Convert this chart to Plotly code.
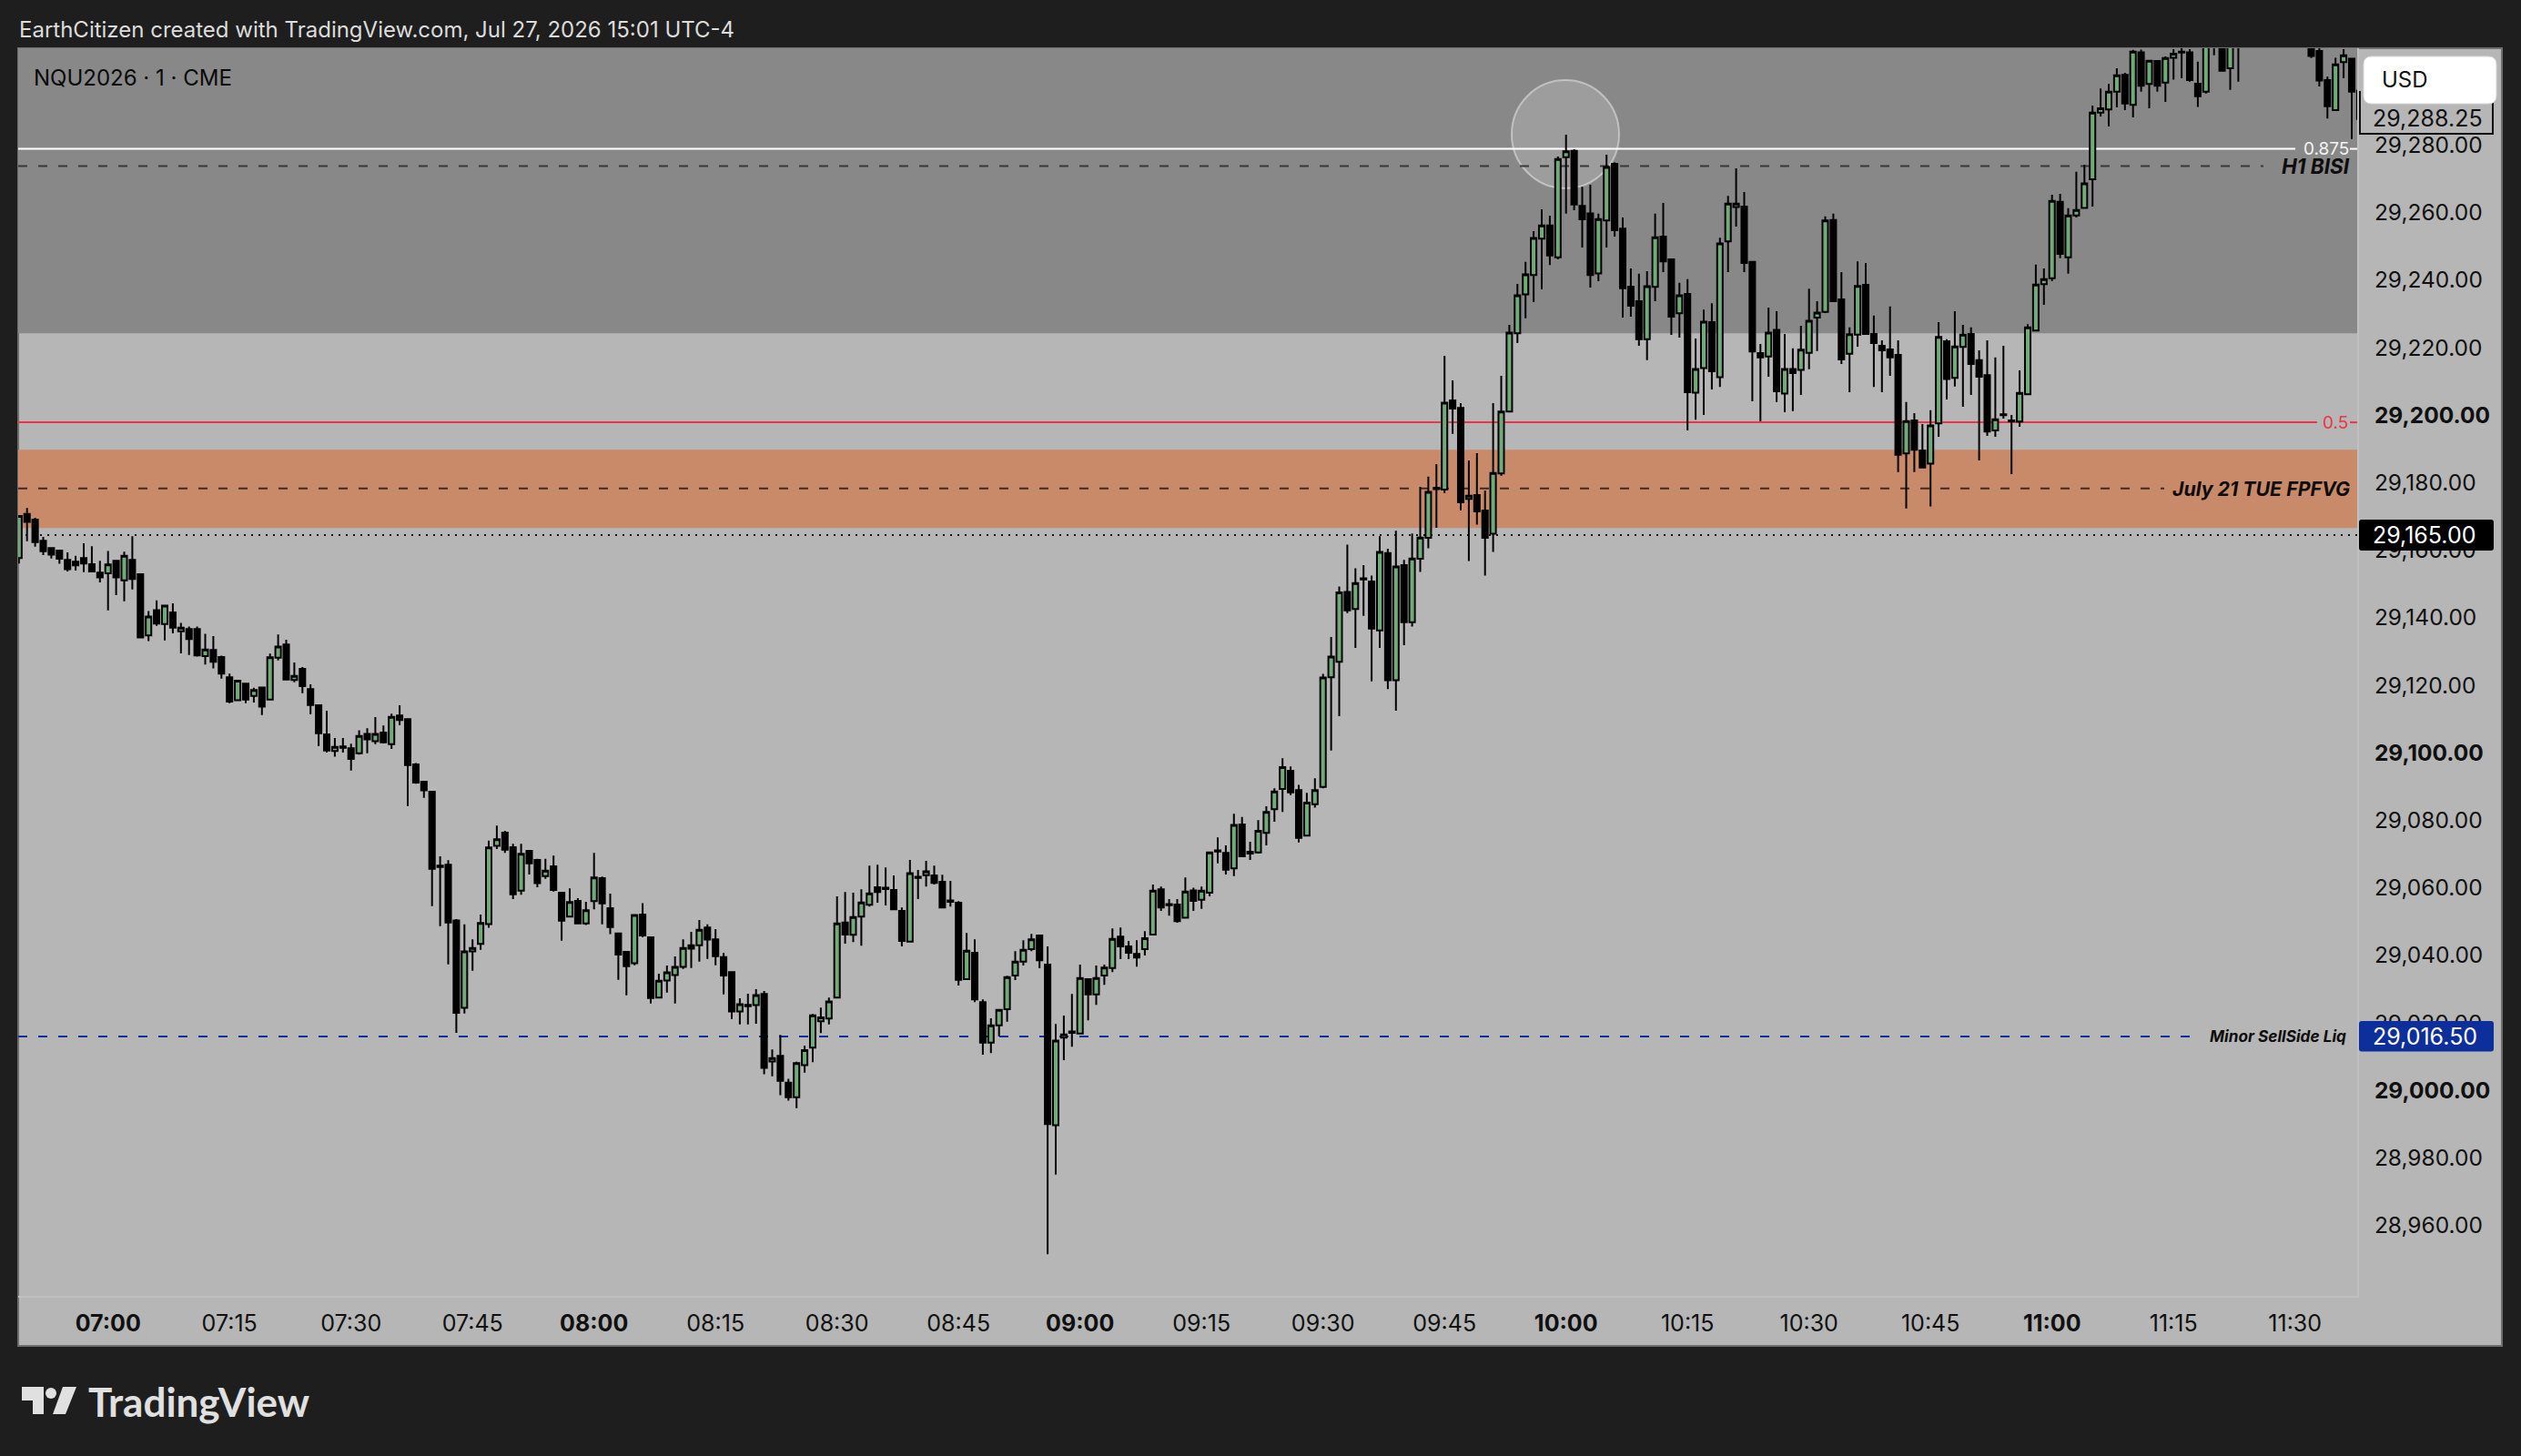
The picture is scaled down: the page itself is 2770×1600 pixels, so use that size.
import plotly.graph_objects as go

# minutes after 07:00 (the bars between 11:24 and 11:31 sit above the visible price range)
minutes = list(range(-11, 264)) + list(range(272, 279))

highs = [
29170.7,29173.0,29170.1,29164.5,29161.2,29160.4,29159.9,29158.9,29162.6,29161.7,
29157.4,29160.3,29157.4,29160.1,29164.7,29153.4,29142.5,29145.7,29144.1,29144.8,
29139.0,29137.9,29137.9,29135.8,29135.1,29129.3,29124.0,29121.9,29121.2,29119.8,
29119.9,29129.9,29135.6,29134.0,29127.3,29125.9,29120.8,29114.6,29113.0,29104.9,
29104.9,29103.2,29107.2,29107.8,29111.1,29108.6,29112.1,29114.6,29110.5,29097.5,
29092.0,29089.0,29069.9,29068.7,29051.3,29049.7,29045.3,29052.6,29074.5,29079.0,
29077.4,29073.6,29073.6,29071.5,29069.1,29069.1,29070.1,29059.1,29060.4,29057.5,
29056.4,29070.9,29063.9,29058.8,29047.0,29041.8,29052.6,29056.0,29045.9,29035.1,
29037.5,29040.2,29045.3,29047.5,29051.0,29049.7,29048.3,29041.3,29035.6,29027.8,
29029.2,29030.5,29030.0,29012.7,29017.0,29004.0,29009.0,29013.8,29023.2,29025.1,
29028.0,29058.0,29059.3,29059.1,29060.1,29067.1,29067.4,29066.6,29064.2,29054.7,
29068.8,29065.8,29068.5,29067.1,29064.4,29062.6,29056.6,29047.2,29045.3,29027.5,
29021.9,29024.6,29034.5,29041.8,29045.0,29046.9,29046.4,29043.2,29020.2,29022.7,
29029.1,29037.8,29033.5,29037.5,29037.8,29048.5,29048.8,29044.8,29045.0,29047.7,
29061.5,29060.9,29057.2,29057.2,29063.6,29060.6,29060.9,29071.0,29075.5,29073.1,
29082.5,29081.5,29074.2,29080.6,29084.7,29090.0,29098.9,29096.5,29091.0,29088.7,
29093.0,29123.9,29134.8,29149.8,29162.2,29155.2,29156.1,29153.0,29164.7,29161.0,
29166.3,29157.7,29165.5,29179.3,29182.3,29186.0,29218.1,29210.8,29204.1,29187.1,
29189.3,29178.2,29204.1,29212.2,29227.3,29239.4,29245.9,29255.0,29261.5,29259.6,
29277.1,29283.6,29279.3,29268.2,29268.8,29260.2,29277.7,29275.4,29259.1,29244.0,
29242.4,29243.2,29260.2,29263.4,29246.7,29239.7,29240.8,29223.2,29231.8,29233.7,
29253.1,29265.5,29273.6,29266.6,29246.1,29221.6,29232.4,29231.3,29224.6,29220.3,
29227.0,29238.0,29234.3,29259.4,29260.2,29242.9,29226.5,29246.1,29245.6,29230.0,
29222.7,29232.7,29222.7,29204.4,29201.1,29197.9,29202.0,29228.1,29223.0,29231.3,
29227.3,29226.5,29219.7,29222.7,29217.6,29221.1,29200.6,29213.8,29227.5,29245.1,
29244.0,29265.8,29266.1,29261.8,29272.6,29274.7,29292.2,29297.3,29298.7,29303.3,
29301.9,29308.7,29308.8,29305.7,29305.7,29306.8,29308.9,29310.0,29308.9,29305.2,
29314.0,29315.0,29313.0,29313.0,29314.0,
29312.0,29310.0,29300.8,29306.4,29308.9,29306.2,29297.0,
]

lows = [
29156.6,29163.2,29161.6,29159.1,29158.1,29156.5,29154.2,29154.5,29154.0,29154.2,
29151.0,29142.7,29147.2,29145.4,29148.9,29134.7,29133.6,29138.1,29133.8,29135.9,
29130.0,29129.5,29129.0,29126.7,29125.5,29122.5,29115.2,29116.1,29115.2,29115.4,
29111.7,29116.3,29127.9,29122.2,29121.4,29118.2,29111.9,29102.5,29100.6,29099.4,
29100.6,29095.3,29100.0,29100.4,29103.1,29103.3,29101.7,29108.7,29084.7,29091.4,
29087.2,29055.1,29049.2,29037.9,29017.6,29023.3,29036.0,29042.2,29048.7,29072.0,
29070.9,29057.2,29058.5,29064.5,29060.7,29063.2,29059.4,29044.9,29052.0,29049.7,
29049.5,29054.2,29049.7,29046.8,29033.3,29028.7,29037.6,29045.9,29026.3,29028.0,
29029.5,29026.3,29036.5,29036.8,29038.7,29039.5,29037.6,29029.0,29021.7,29020.1,
29020.1,29020.3,29005.3,29004.7,28999.1,28997.5,28995.3,29005.8,29008.9,29017.5,
29020.1,29028.0,29044.0,29044.5,29043.4,29055.0,29056.1,29055.3,29054.2,29043.2,
29044.6,29057.2,29060.9,29061.5,29054.7,29055.0,29031.6,29033.3,29026.7,29011.1,
29011.6,29016.5,29020.9,29033.2,29037.5,29041.8,29036.7,28952.0,28975.6,29009.5,
29013.5,29017.4,29021.3,29025.9,29031.8,29035.6,29039.4,29039.4,29037.2,29040.5,
29046.7,29053.7,29052.3,29050.2,29051.7,29053.7,29054.3,29058.0,29067.8,29064.5,
29064.0,29069.9,29068.8,29070.7,29073.1,29080.1,29083.0,29088.0,29074.0,29076.0,
29084.3,29090.0,29101.2,29111.4,29141.9,29131.6,29141.1,29121.7,29131.6,29119.4,
29113.0,29132.4,29137.9,29154.1,29161.1,29167.2,29177.5,29195.0,29172.3,29157.3,
29168.1,29153.0,29160.0,29182.6,29201.6,29221.9,29229.2,29234.0,29237.8,29245.0,
29246.7,29260.2,29261.2,29250.2,29238.3,29240.2,29250.2,29253.4,29229.4,29229.7,
29221.1,29216.8,29234.3,29242.9,29224.3,29223.5,29196.0,29199.2,29200.6,29208.1,
29208.9,29242.9,29256.4,29242.9,29204.6,29198.7,29211.9,29204.4,29201.4,29201.7,
29206.5,29214.1,29219.5,29230.8,29234.3,29215.7,29207.3,29220.8,29224.6,29208.9,
29207.3,29212.2,29183.7,29172.9,29183.7,29185.0,29173.5,29194.1,29205.2,29209.0,
29203.0,29206.5,29187.1,29194.4,29194.1,29199.5,29183.1,29197.1,29206.7,29225.6,
29233.2,29240.2,29247.0,29242.4,29259.1,29261.9,29262.3,29289.0,29286.0,29291.7,
29290.9,29288.7,29296.3,29291.4,29296.3,29293.3,29299.9,29300.3,29299.3,29291.8,
29295.8,29307.1,29302.5,29296.9,29299.3,
29306.3,29297.9,29288.4,29290.9,29300.3,29282.3,29288.0,
]

opens = [
29158.2,29171.3,29169.6,29163.3,29161.2,29160.4,29157.65,29157.1,29158.2,29156.4,
29153.9,29153.7,29157.4,29151.6,29157.65,29153.4,29135.3,29142.8,29138.7,29142.1,
29136.5,29137.2,29137.2,29129.2,29131.0,29128.9,29122.9,29116.1,29121.0,29117.4,
29119.9,29116.3,29128.7,29132.6,29122.1,29125.4,29119.4,29114.6,29106.0,29101.1,
29102.4,29101.9,29100.4,29106.1,29104.0,29106.5,29103.1,29111.6,29110.5,29097.1,
29092.0,29089.0,29067.1,29067.4,29050.9,29025.0,29041.7,29043.9,29049.8,29073.0,
29076.9,29072.6,29059.7,29071.5,29068.8,29064.0,29066.9,29059.1,29052.0,29056.7,
29050.0,29056.6,29063.4,29054.5,29047.0,29041.6,29038.2,29052.6,29045.9,29028.0,
29033.1,29034.7,29037.1,29043.5,29043.5,29048.8,29045.3,29040.0,29035.6,29023.9,
29025.9,29025.8,29029.1,29009.1,29010.8,29002.8,28998.5,29008.0,29013.2,29021.0,
29021.8,29028.0,29050.3,29046.6,29052.0,29055.5,29060.7,29060.6,29059.9,29053.7,
29044.6,29063.8,29064.3,29064.2,29062.3,29056.8,29056.1,29033.5,29041.3,29026.7,
29014.7,29019.8,29024.6,29034.6,29038.7,29042.4,29046.4,29037.8,28990.2,29016.2,
29018.0,29017.4,29033.5,29029.0,29034.6,29036.8,29046.1,29043.2,29041.0,29042.4,
29046.7,29060.1,29055.7,29055.6,29051.7,29059.8,29057.0,29059.1,29071.6,29070.9,
29066.3,29079.3,29071.2,29071.0,29076.8,29083.8,29089.8,29095.2,29089.5,29076.0,
29085.3,29090.4,29122.9,29127.5,29148.2,29143.1,29152.2,29151.3,29136.8,29159.7,
29122.0,29156.1,29139.2,29158.0,29164.2,29179.0,29178.5,29204.9,29202.7,29175.7,
29176.9,29172.3,29165.4,29183.3,29201.6,29224.8,29236.3,29242.0,29252.8,29256.7,
29247.3,29276.9,29278.8,29262.5,29260.3,29242.5,29258.2,29275.0,29255.8,29238.6,
29234.3,29223.0,29238.5,29253.4,29246.7,29230.7,29236.4,29207.2,29214.5,29228.1,
29211.8,29252.0,29262.2,29262.3,29245.9,29218.9,29217.9,29225.8,29206.9,29214.2,
29213.9,29219.0,29229.4,29231.1,29258.3,29234.8,29218.7,29224.4,29239.1,29224.6,
29221.1,29220.0,29218.4,29189.2,29199.0,29190.1,29186.2,29198.1,29222.4,29211.6,
29220.7,29224.6,29216.8,29212.4,29196.0,29200.8,29199.0,29198.6,29206.7,29225.6,
29239.3,29241.1,29263.7,29247.3,29259.7,29261.9,29270.4,29290.1,29291.1,29296.3,
29301.3,29292.4,29308.0,29298.6,29305.4,29299.0,29306.4,29308.2,29308.0,29298.7,
29296.3,29313.0,29312.0,29303.3,29313.0,
29310.0,29308.4,29299.8,29290.9,29305.1,29306.1,29296.7,
]

closes = [
29170.7,29168.9,29162.9,29160.2,29159.25,29158.0,29154.9,29156.05,29156.6,29154.2,
29152.5,29156.3,29152.5,29158.9,29152.0,29134.7,29140.9,29138.8,29144.1,29137.6,
29137.6,29134.2,29129.4,29131.1,29127.5,29124.0,29115.7,29121.9,29116.3,29119.1,
29114.2,29128.8,29132.0,29122.2,29123.3,29120.3,29114.7,29106.3,29101.2,29102.3,
29102.0,29098.7,29105.5,29104.5,29106.1,29103.6,29111.2,29110.2,29096.9,29091.7,
29089.4,29066.2,29066.7,29050.3,29023.5,29041.7,29042.7,29050.1,29072.5,29074.9,
29071.8,29058.6,29070.6,29067.8,29061.9,29065.6,29059.9,29050.8,29056.3,29050.0,
29053.9,29063.6,29055.9,29048.9,29040.8,29037.3,29052.5,29046.4,29027.9,29033.0,
29035.5,29037.1,29042.7,29042.5,29048.1,29045.2,29040.3,29034.6,29023.9,29026.1,
29025.5,29028.8,29007.2,29010.1,29003.4,28998.5,29008.6,29012.5,29022.8,29022.2,
29026.9,29050.0,29046.7,29051.9,29056.2,29058.9,29059.3,29060.2,29054.2,29044.8,
29064.9,29063.5,29065.4,29062.0,29054.7,29056.4,29033.3,29041.9,29027.5,29014.7,
29019.8,29024.4,29034.1,29038.7,29042.2,29045.3,29039.1,28990.6,29015.3,29017.1,
29017.6,29033.8,29029.0,29033.8,29036.9,29045.4,29043.2,29041.3,29039.9,29045.6,
29059.7,29054.7,29055.4,29050.7,29059.4,29056.7,29059.7,29071.0,29071.3,29065.9,
29079.2,29069.9,29070.7,29077.4,29083.0,29089.1,29096.3,29088.8,29075.3,29085.8,
29089.5,29122.8,29129.0,29148.0,29142.7,29150.8,29151.9,29137.3,29160.0,29122.0,
29155.7,29139.2,29158.1,29164.3,29177.8,29178.6,29204.2,29202.5,29174.7,29176.7,
29172.0,29164.2,29183.4,29201.6,29225.0,29236.0,29242.2,29253.0,29256.7,29247.8,
29276.4,29278.7,29262.9,29258.5,29242.0,29258.6,29274.0,29255.3,29238.1,29232.9,
29223.0,29238.7,29253.2,29246.1,29229.7,29236.0,29207.3,29214.2,29228.2,29213.5,
29251.4,29263.2,29263.2,29245.6,29219.4,29217.6,29225.0,29207.6,29214.2,29213.0,
29219.9,29228.5,29230.9,29258.2,29234.3,29217.0,29224.5,29238.8,29224.6,29221.9,
29219.7,29217.6,29188.8,29198.8,29190.3,29185.0,29197.5,29223.7,29211.2,29220.9,
29224.4,29215.7,29211.9,29195.7,29199.3,29200.5,29198.7,29207.1,29226.5,29239.2,
29240.8,29264.0,29248.3,29259.7,29261.3,29269.2,29290.1,29291.4,29296.3,29301.2,
29292.8,29308.2,29298.1,29305.5,29298.1,29306.3,29307.6,29307.9,29299.8,29295.0,
29312.0,29310.0,29302.5,29311.0,29310.0,
29306.9,29299.6,29292.0,29304.4,29307.1,29296.3,29288.25,
]

price_ticks = [28960, 28980, 29000, 29020, 29040, 29060, 29080, 29100, 29120, 29140,
               29160, 29180, 29200, 29220, 29240, 29260, 29280]
price_labels = ["28,960.00", "28,980.00", "<b>29,000.00</b>", "29,020.00", "29,040.00",
                "29,060.00", "29,080.00", "<b>29,100.00</b>", "29,120.00", "29,140.00",
                "29,160.00", "29,180.00", "<b>29,200.00</b>", "29,220.00", "29,240.00",
                "29,260.00", "29,280.00"]
time_ticks = list(range(0, 271, 15))
time_labels = ["<b>07:00</b>", "07:15", "07:30", "07:45", "<b>08:00</b>", "08:15", "08:30",
               "08:45", "<b>09:00</b>", "09:15", "09:30", "09:45", "<b>10:00</b>", "10:15",
               "10:30", "10:45", "<b>11:00</b>", "11:15", "11:30"]

# chart levels (prices)
premium_low = 29224.8
fvg_high = 29190.3
fvg_low = 29167.1
fvg_mid = 29178.8
bisi_mid = 29274.3
level_0875 = 29279.4
level_05 = 29198.4
close_level = 29165.0
sellside = 29016.5
last_price = 29288.25

FONT = "Inter"
BG = "#1e1e1e"
PANEL = "#b6b6b6"
DARKZONE = "#888888"
ORANGE = "#c88a68"
GREEN = "#70ac78"
RED = "#ee3446"
BLUE = "#0c2f9b"

# page geometry of the plot box, in screen pixels
L, R, T, B = 20, 2590, 53, 1424
W, H = 2770, 1600


def X(px):
    return (px - L) / (R - L)


def Y(py):
    return (B - py) / (B - T)


def path(points):
    return "M " + " L ".join(f"{X(a):.6f},{Y(b):.6f}" for a, b in points) + " Z"


def rounded(x0, y0, x1, y1, r):
    return (f"M {X(x0+r):.6f},{Y(y0):.6f} L {X(x1-r):.6f},{Y(y0):.6f} Q {X(x1):.6f},{Y(y0):.6f} {X(x1):.6f},{Y(y0+r):.6f} "
            f"L {X(x1):.6f},{Y(y1-r):.6f} Q {X(x1):.6f},{Y(y1):.6f} {X(x1-r):.6f},{Y(y1):.6f} "
            f"L {X(x0+r):.6f},{Y(y1):.6f} Q {X(x0):.6f},{Y(y1):.6f} {X(x0):.6f},{Y(y1-r):.6f} "
            f"L {X(x0):.6f},{Y(y0+r):.6f} Q {X(x0):.6f},{Y(y0):.6f} {X(x0+r):.6f},{Y(y0):.6f} Z")


def hline(level, x0, x1, color, width, dash="solid"):
    return dict(type="line", xref="paper", yref="y", x0=X(x0), x1=X(x1), y0=level, y1=level,
                layer="below", line=dict(color=color, width=width, dash=dash))


def band(lo, hi, color):
    return dict(type="rect", xref="paper", yref="y", x0=0, x1=1, y0=lo, y1=hi, layer="below",
                fillcolor=color, line=dict(width=0))


def label(px, py, text, size, color, anchor="left", family=FONT):
    return dict(xref="paper", yref="paper", x=X(px), y=Y(py), text=text, showarrow=False,
                xanchor=anchor, yanchor="middle", align=anchor, borderpad=0,
                font=dict(family=family, size=size, color=color))


Y_TOP = 29309.2
Y_BOTTOM = 28939.7
DASH = "10px,12px"

shapes = [
    # chart card
    dict(type="rect", xref="paper", yref="paper", x0=X(20), x1=X(2749), y0=Y(1479), y1=Y(53),
         layer="below", fillcolor=PANEL, line=dict(color="#6e6e6e", width=2)),
    band(premium_low, Y_TOP, DARKZONE),
    band(fvg_low, fvg_high, ORANGE),
    # highlight circle
    dict(type="circle", xref="paper", yref="paper", x0=X(1661), x1=X(1779), y0=Y(207), y1=Y(88),
         layer="below", fillcolor="rgba(255,255,255,0.18)", line=dict(color="rgba(225,225,225,0.6)", width=2)),
    hline(level_0875, 20, 2522, "#ffffff", 2),
    hline(level_0875, 2582, 2590, "#ffffff", 2),
    hline(bisi_mid, 20, 2487, "#383838", 2, DASH),
    hline(level_05, 20, 2546, RED, 2),
    hline(level_05, 2582, 2590, RED, 2),
    hline(fvg_mid, 20, 2378, "#3e2a20", 2, DASH),
    hline(close_level, 20, 2590, "#111111", 2, "2px,6px"),
    hline(sellside, 20, 2418, BLUE, 2, DASH),
    # price tags on the axis
    dict(type="path", xref="paper", yref="paper", layer="above", fillcolor=PANEL,
         line=dict(color="#111111", width=2),
         path=f"M {X(2593):.6f},{Y(100):.6f} L {X(2593):.6f},{Y(147):.6f} L {X(2739):.6f},{Y(147):.6f} L {X(2739):.6f},{Y(100):.6f}"),
    dict(type="path", xref="paper", yref="paper", layer="above", fillcolor="#ffffff",
         line=dict(color="#d8d8d8", width=1), path=rounded(2597, 62, 2743, 114, 9)),
    dict(type="path", xref="paper", yref="paper", layer="above", fillcolor="#000000",
         line=dict(width=0), path=rounded(2592, 571, 2740, 605, 3)),
    dict(type="path", xref="paper", yref="paper", layer="above", fillcolor=BLUE,
         line=dict(width=0), path=rounded(2592, 1122, 2740, 1155.5, 3)),
    # TradingView mark
    dict(type="path", xref="paper", yref="paper", layer="above", fillcolor="#e0e0e0", line=dict(width=0),
         path=path([(24, 1524), (48, 1524), (48, 1554), (36, 1554), (36, 1539), (24, 1539)])),
    dict(type="circle", xref="paper", yref="paper", layer="above", fillcolor="#e0e0e0", line=dict(width=0),
         x0=X(50), x1=X(62), y0=Y(1537), y1=Y(1525)),
    dict(type="path", xref="paper", yref="paper", layer="above", fillcolor="#e0e0e0", line=dict(width=0),
         path=path([(69, 1524), (84, 1524), (72, 1554), (58, 1554)])),
]

annotations = [
    label(20, 32, "EarthCitizen created with TradingView.com, Jul 27, 2026 15:01 UTC-4", 24, "#dcdcdc"),
    label(36, 86, "NQU2026 · 1 · CME", 24, "#0a0a0a"),
    label(2530, 163, "0.875", 19, "#f4f4f4"),
    label(2583, 183, "<b><i>H1 BISI</i></b>", 22.5, "#0d0d0d", "right"),
    label(2551, 464, "0.5", 19, RED),
    label(2583, 537, "<b><i>July 21 TUE FPFVG</i></b>", 21.3, "#0d0d0d", "right"),
    label(2579, 1138, "<b><i>Minor SellSide Liq</i></b>", 17.2, "#0d0d0d", "right"),
    label(2616, 88, "USD", 24, "#111111"),
    label(2606, 130, "29,288.25", 25, "#111111"),
    label(2606, 588, "29,165.00", 25, "#ffffff"),
    label(2606, 1139, "29,016.50", 25, "#ffffff"),
    label(96, 1540, "<b>TradingView</b>", 44, "#e0e0e0", family="Lato"),
]

fig = go.Figure(
    go.Candlestick(
        x=minutes, open=opens, high=highs, low=lows, close=closes,
        increasing=dict(line=dict(color="#000000", width=2), fillcolor=GREEN),
        decreasing=dict(line=dict(color="#000000", width=2), fillcolor="#000000"),
        whiskerwidth=0, hoverinfo="skip", showlegend=False,
    )
)

fig.update_layout(
    width=W, height=H, autosize=False,
    margin=dict(l=L, r=W - R, t=T, b=H - B, pad=0),
    paper_bgcolor=BG, plot_bgcolor=PANEL,
    boxgap=0.32, boxgroupgap=0,
    showlegend=False, shapes=shapes, annotations=annotations,
    xaxis=dict(
        type="linear", range=[(L - 118.7) / 8.9, (R - 118.7) / 8.9], rangeslider=dict(visible=False),
        tickmode="array", tickvals=time_ticks, ticktext=time_labels, showgrid=False, zeroline=False,
        ticks="", ticklabelstandoff=7, showline=True, linecolor="#c0c0c0", linewidth=2,
        tickfont=dict(family=FONT, size=25, color="#101010"),
    ),
    yaxis=dict(
        side="right", range=[Y_BOTTOM, Y_TOP], tickmode="array", tickvals=price_ticks, ticktext=price_labels,
        showgrid=False, zeroline=False, ticks="", ticklabelstandoff=12, ticklabelshift=-2, showline=True,
        linecolor="#c0c0c0", linewidth=2, tickfont=dict(family=FONT, size=24.5, color="#101010"),
    ),
    font=dict(family=FONT),
)

fig.write_html(
    "out.html",
    config=dict(displayModeBar=False, staticPlot=True),
    post_script="document.body.style.margin='0';document.body.style.background='#1e1e1e';document.body.style.overflow='hidden';",
)
